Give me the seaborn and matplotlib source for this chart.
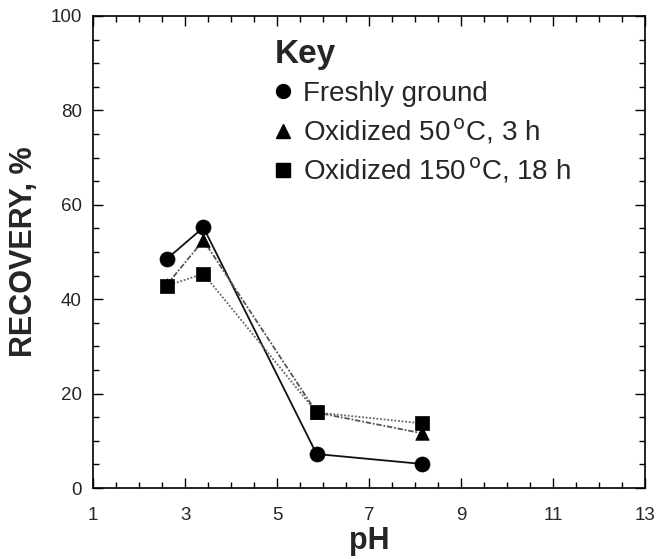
import matplotlib
matplotlib.use("Agg")
import matplotlib.pyplot as plt
import seaborn as sns
import pandas as pd
from matplotlib.ticker import MultipleLocator, FixedLocator
from matplotlib.lines import Line2D

sns.set_style("ticks")
plt.rcParams['font.family'] = ['Liberation Sans', 'DejaVu Sans']

ph = [2.6, 3.4, 5.86, 8.15]
fresh = [48.5, 55.2, 7.2, 5.1]
ox50 = [43.0, 52.5, 16.0, 11.6]
ox150 = [42.8, 45.4, 16.0, 13.7]
labels = ["Freshly ground", "Oxidized 50$^{\\,\\mathrm{o}}$C, 3 h", "Oxidized 150$^{\\,\\mathrm{o}}$C, 18 h"]
xticks = [1, 3, 5, 7, 9, 11, 13]
markers = ["o", "^", "s"]
styles = ["-", (0, (3, 1, 1, 1)), (0, (1, 1))]
lcolors = ["#111111", "#555555", "#666666"]

df = pd.concat([
    pd.DataFrame({"pH": ph, "rec": fresh, "s": labels[0]}),
    pd.DataFrame({"pH": ph, "rec": ox50, "s": labels[1]}),
    pd.DataFrame({"pH": ph, "rec": ox150, "s": labels[2]}),
])

fig = plt.figure(figsize=(6.57, 5.59), dpi=100)
ax = fig.add_axes([0.1416, 0.127, 0.8402, 0.8444])

for lab, ls, lc in zip(labels, styles, lcolors):
    d = df[df["s"] == lab]
    sns.lineplot(data=d, x="pH", y="rec", ax=ax, color=lc, linestyle=ls, linewidth=1.3,
                 legend=False)
for lab, mk in zip(labels[::-1], markers[::-1]):
    d = df[df["s"] == lab]
    sns.scatterplot(data=d, x="pH", y="rec", ax=ax, marker=mk, color="black",
                    s=117 if mk == "o" else 95, edgecolor="black", linewidth=0.5,
                    legend=False, zorder=5)

ax.set_xlim(1, 13)
ax.set_ylim(0, 100)
ax.xaxis.set_major_locator(FixedLocator(xticks))
ax.xaxis.set_minor_locator(MultipleLocator(0.5))
ax.yaxis.set_major_locator(MultipleLocator(20))
ax.yaxis.set_minor_locator(MultipleLocator(5))
ax.tick_params(which="both", direction="in", top=True, right=True, width=1.0, color="black")
ax.tick_params(which="major", length=7, labelsize=13.5)
ax.tick_params(axis="x", which="major", pad=14)
ax.tick_params(axis="y", which="major", pad=8)
ax.tick_params(which="minor", length=4)
for sp in ax.spines.values():
    sp.set_linewidth(1.2)
    sp.set_color("black")

ax.set_xlabel("pH", fontsize=22, fontweight="bold", labelpad=1)
ax.set_ylabel("RECOVERY, %", fontsize=22, fontweight="bold", labelpad=8)

ax.text(0.3297, 0.9004, "Key", transform=ax.transAxes, fontsize=24, fontweight="bold",
        ha="left", va="baseline")
handles = [Line2D([], [], marker=m, color="black", linestyle="none", markersize=10) for m in markers]
leg = ax.legend(handles, labels, loc="upper left", bbox_to_anchor=(0.319, 0.862),
                frameon=False, fontsize=20, handletextpad=0.22, handlelength=1.0,
                labelspacing=0.36, borderaxespad=0, borderpad=0)

fig.savefig("out.png", dpi=100)
